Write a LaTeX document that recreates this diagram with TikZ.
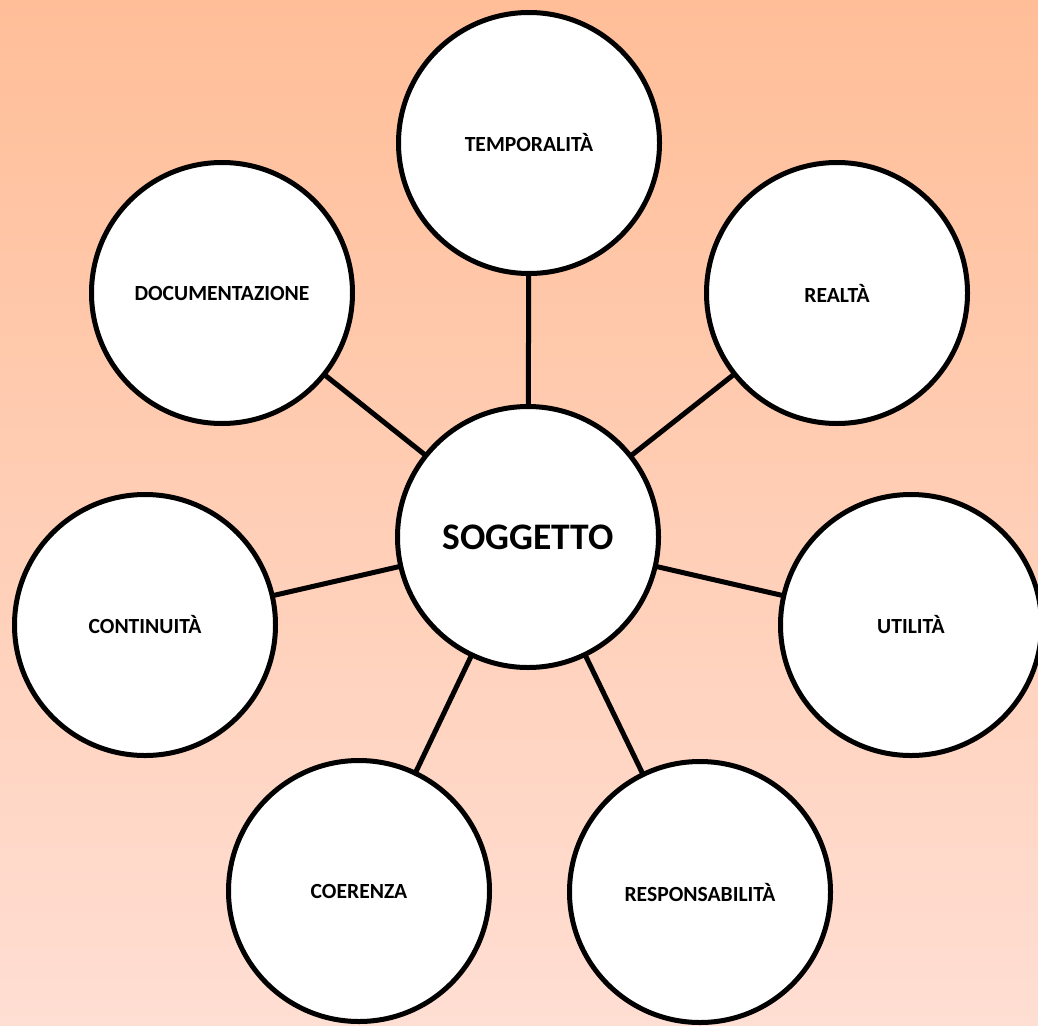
\documentclass[tikz,border=0pt]{standalone}
\usepackage{fontspec}
\setmainfont{Carlito}
\definecolor{bgtop}{HTML}{FFBE98}
\definecolor{bgbot}{HTML}{FFDED3}
\begin{document}
\begin{tikzpicture}[x=1pt,y=-1pt,
  bubble/.style={circle,draw=black,line width=5pt,fill=white,minimum size=261pt,inner sep=0pt,font=\bfseries\fontsize{21.6}{25}\selectfont},
  hub/.style={bubble,font=\bfseries\fontsize{37.5}{42}\selectfont},
  link/.style={line width=5pt,draw=black}]
\path[use as bounding box,top color=bgtop,bottom color=bgbot] (0,0) rectangle (1038,1025);
\begin{scope}
\clip (0,0) rectangle (1038,1025);
\coordinate (cS) at (528,537);
\coordinate (cT) at (529,143);
\coordinate (cR) at (837,293);
\coordinate (cD) at (222,293);
\coordinate (cC) at (145,625);
\coordinate (cU) at (911,625);
\coordinate (cE) at (359,891);
\coordinate (cP) at (700,892);
\foreach \o in {cT,cR,cD,cC,cU,cE,cP} \draw[link] (cS) -- (\o);
\node[hub] (S) at (cS) {SOGGETTO};
\node[bubble] (T) at (cT) {TEMPORALITÀ};
\node[bubble] (R) at (cR) {REALTÀ};
\node[bubble] (D) at (cD) {DOCUMENTAZIONE};
\node[bubble] (C) at (cC) {CONTINUITÀ};
\node[bubble] (U) at (cU) {UTILITÀ};
\node[bubble] (E) at (cE) {COERENZA};
\node[bubble] (P) at (cP) {RESPONSABILITÀ};
\end{scope}
\end{tikzpicture}
\end{document}
